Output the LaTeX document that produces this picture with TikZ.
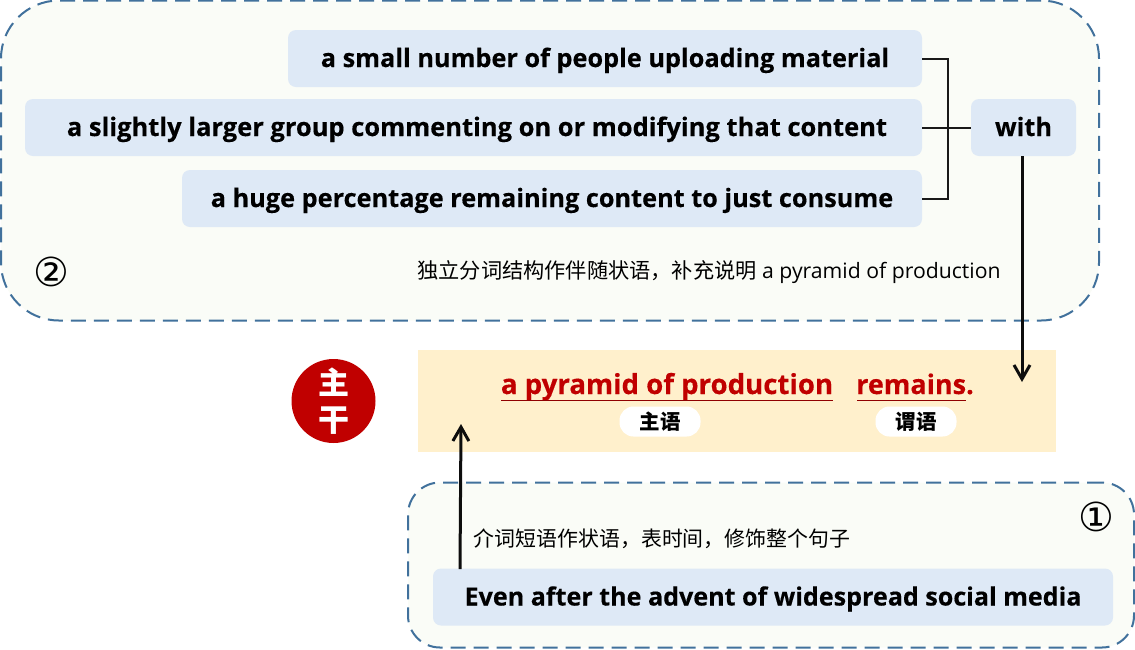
\documentclass[tikz,border=0pt]{standalone}
\usepackage{fontspec}
\setmainfont[BoldFeatures={FakeBold=0.35}]{Open Sans}
\newfontfamily\cjk{Noto Sans CJK SC}
\usetikzlibrary{arrows.meta}
\definecolor{blueb}{HTML}{DEE9F6}
\definecolor{dashb}{HTML}{41719C}
\definecolor{panel}{HTML}{FAFCF7}
\definecolor{mainbg}{HTML}{FFF0CC}
\definecolor{redc}{HTML}{C00000}
\tikzset{
  panelbox/.style={draw=dashb,line width=2pt,dash pattern=on 15pt off 8pt,fill=panel},
  wordbox/.style={fill=blueb,rounded corners=8pt,inner sep=0pt,minimum height=57pt,text height=22pt,text depth=5pt,font=\fontsize{25.3}{28}\selectfont\bfseries,text=black},
  tag/.style={fill=white,rounded corners=14pt,inner sep=0pt,minimum width=81pt,minimum height=30pt,font=\fontsize{20.5}{22}\selectfont\cjk\bfseries},
  note/.style={inner sep=0pt,text=black},
  mainword/.style={inner sep=0pt,anchor=base,font=\fontsize{27.6}{28}\selectfont\bfseries,text=redc},
  bracket/.style={draw=black!90,line width=2pt},
  arrowline/.style={draw=black!95,line width=3pt,-{Straight Barb[length=14pt,width=16pt,line width=3pt]}},
  numlab/.style={inner sep=0pt,font=\fontsize{40}{42}\selectfont\fontspec{DejaVu Sans},text=black},
}
\begin{document}
\begin{tikzpicture}[x=1pt,y=-1pt]
\useasboundingbox (0,0) rectangle (1135,649);
\node[panelbox,rounded corners=58pt,minimum width=1098pt,minimum height=320pt,inner sep=0pt] (top) at (550,160.5) {};
\node[panelbox,rounded corners=32pt,minimum width=726pt,minimum height=165pt,inner sep=0pt] (low) at (771,565) {};
\node[wordbox,minimum width=634pt] (a) at (605,58.5) {a small number of people uploading material};
\node[wordbox,minimum width=897pt,font=\fontsize{25.5}{28}\selectfont\bfseries] (b) at (473.5,127.5) {\hspace{7pt}a slightly larger group commenting on or modifying that content};
\node[wordbox,minimum width=740pt] (c) at (552,198.5) {a huge percentage remaining content to just consume};
\node[wordbox,minimum width=105pt] (w) at (1023.5,127.5) {with};
\coordinate (j) at (948,127.5);
\draw[bracket] (a.east) -- (j |- a.east) -- (j |- c.east) -- (c.east);
\draw[bracket] (b.east) -- (w.west);
\node[numlab] (n2) at (51,272) {②};
\node[note,font=\fontsize{21.2}{24}\selectfont] (na) at (709,272.5) {{\cjk 独立分词结构作伴随状语，补充说明} a pyramid of production};
\node[fill=mainbg,minimum width=638pt,minimum height=102pt,inner sep=0pt] (main) at (737,401) {};
\node[fill=redc,circle,minimum size=84pt,inner sep=0pt] (zg) at (333.5,401) {};
\node[inner sep=0pt,text=white,font=\fontsize{31}{37}\selectfont\cjk\bfseries,align=center] (zgt) at (333.5,401) {主\\干};
\node[mainword] (s) at (667,394) {a pyramid of production};
\node[mainword,font=\fontsize{27}{28}\selectfont\bfseries] (p) at (915,394) {remains.};
\draw[redc!75!black,line width=1pt] (501,400) -- (833,400) (857,400) -- (966,400);
\node[tag] (ts) at (660,421.5) {主语};
\node[tag] (tp) at (916,421.5) {谓语};
\node[note,font=\fontsize{20.9}{24}\selectfont\cjk] (nb) at (662,538.5) {介词短语作状语，表时间，修饰整个句子};
\node[numlab] (n1) at (1096,517) {①};
\node[wordbox,minimum width=680pt,font=\fontsize{25.1}{28}\selectfont\bfseries] (e) at (773,597) {Even after the advent of widespread social media};
\coordinate (ea) at (460,569);
\coordinate (ma) at (461,424);
\coordinate (wb) at (1022,156);
\coordinate (mb) at (1022,382);
\draw[arrowline] (ea) -- (ma);
\draw[arrowline] (wb) -- (mb);
\end{tikzpicture}
\end{document}
